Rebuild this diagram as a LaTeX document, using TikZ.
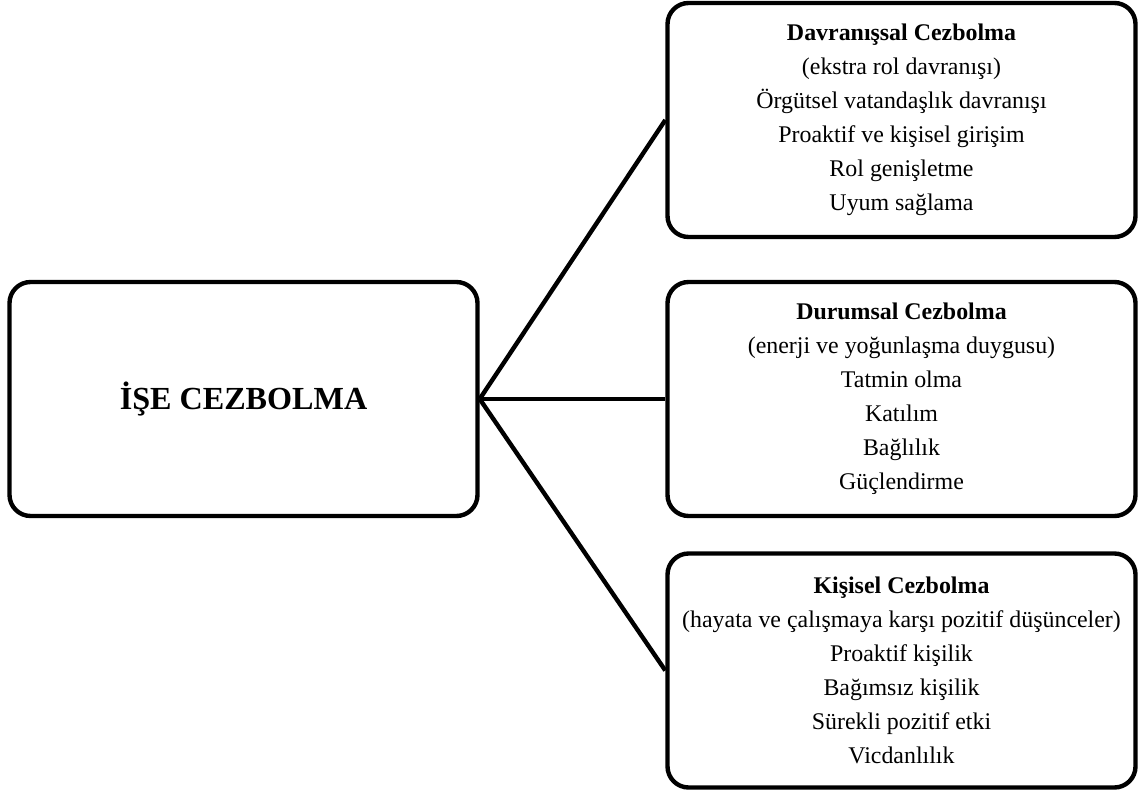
\documentclass[tikz,border=0pt]{standalone}
\usepackage{fontspec}
\setmainfont{Liberation Serif}
\usepackage{tikz}
\usetikzlibrary{positioning}
\tikzset{
  kutu/.style={draw, line width=2.5pt, rounded corners=12pt, minimum width=9.36cm,
    minimum height=4.68cm, align=center, inner sep=0pt,
    font=\fontsize{13.6}{19.3}\selectfont},
  baslik/.style={kutu, font=\fontsize{18.3}{22}\selectfont\bfseries},
  baglanti/.style={line width=2.5pt}
}

\begin{document}
\begin{tikzpicture}
\useasboundingbox (0,0) rectangle (22.78,15.84);
% ana kutu
\node[baslik] (ise) at (4.87,7.86) {İŞE CEZBOLMA};
% alt boyutlar
\node[kutu] (davranissal) at (18.03,13.44) {\textbf{Davranışsal Cezbolma}\\(ekstra rol davranışı)\\Örgütsel vatandaşlık davranışı\\Proaktif ve kişisel girişim\\Rol genişletme\\Uyum sağlama};
\node[kutu] (durumsal) at (18.03,7.86) {\textbf{Durumsal Cezbolma}\\(enerji ve yoğunlaşma duygusu)\\Tatmin olma\\Katılım\\Bağlılık\\Güçlendirme};
\node[kutu] (kisisel) at (18.03,2.43) {\textbf{Kişisel Cezbolma}\\(hayata ve çalışmaya karşı pozitif düşünceler)\\Proaktif kişilik\\Bağımsız kişilik\\Sürekli pozitif etki\\Vicdanlılık};
% baglantilar
\foreach \hedef in {davranissal,durumsal,kisisel}
  \draw[baglanti] (ise.east) -- (\hedef.west);
\end{tikzpicture}
\end{document}
